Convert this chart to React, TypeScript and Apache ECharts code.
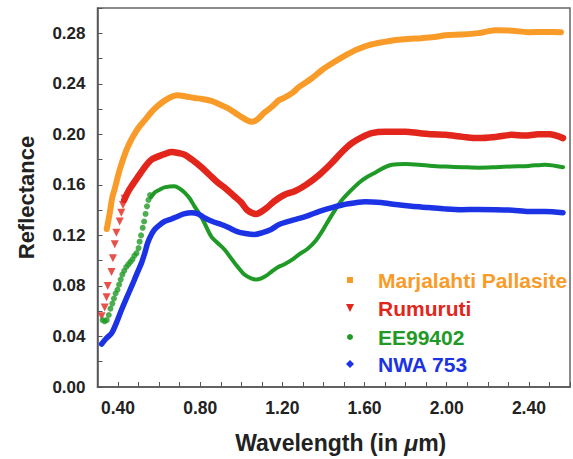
import React, { useEffect, useRef } from "react";
import * as echarts from "echarts";

const seriesNames = ["Marjalahti Pallasite", "Rumuruti", "EE99402", "NWA 753"];
const seriesColors = ["#F99B28", "#E2261C", "#1F9A26", "#1B33E4"];

const marjalahti: number[][] = [
  [0.345, 0.125], [0.36, 0.138], [0.372, 0.150], [0.384, 0.157], [0.41, 0.173], [0.447, 0.190],
  [0.49, 0.203], [0.529, 0.211], [0.57, 0.219], [0.612, 0.225], [0.65, 0.229], [0.689, 0.231],
  [0.73, 0.230], [0.772, 0.2288], [0.81, 0.228], [0.854, 0.2264], [0.89, 0.224], [0.932, 0.2209],
  [0.97, 0.217], [1.0, 0.2138], [1.03, 0.211], [1.053, 0.2099], [1.08, 0.212], [1.111, 0.217],
  [1.15, 0.222], [1.184, 0.2272], [1.208, 0.2288], [1.25, 0.233], [1.281, 0.2375], [1.34, 0.244],
  [1.393, 0.2509], [1.45, 0.257], [1.509, 0.2627], [1.56, 0.267], [1.621, 0.2706], [1.69, 0.273],
  [1.752, 0.2746], [1.81, 0.2755], [1.878, 0.2761], [1.94, 0.277], [1.995, 0.2785], [2.07, 0.279],
  [2.155, 0.2801], [2.237, 0.2824], [2.32, 0.282], [2.397, 0.2809], [2.48, 0.281], [2.556, 0.2809],
];

const rumurutiSparse: number[][] = [
  [0.32, 0.056], [0.335, 0.063], [0.344, 0.071], [0.35, 0.08], [0.368, 0.091], [0.375, 0.102],
  [0.384, 0.113], [0.392, 0.122], [0.408, 0.131], [0.416, 0.138], [0.424, 0.144], [0.432, 0.149],
];
const rumuruti: number[][] = [
  [0.43, 0.148], [0.447, 0.154], [0.47, 0.16], [0.495, 0.166], [0.53, 0.174], [0.563, 0.18],
  [0.62, 0.184], [0.66, 0.186], [0.7, 0.185], [0.723, 0.184], [0.76, 0.18], [0.806, 0.174],
  [0.845, 0.168], [0.884, 0.162], [0.925, 0.157], [0.966, 0.151], [1.0, 0.146], [1.029, 0.14],
  [1.072, 0.137], [1.1, 0.139], [1.126, 0.142], [1.16, 0.147], [1.208, 0.152], [1.26, 0.155],
  [1.315, 0.16], [1.38, 0.168], [1.441, 0.1775], [1.49, 0.186], [1.538, 0.193], [1.59, 0.198],
  [1.635, 0.201], [1.7, 0.202], [1.752, 0.202], [1.8, 0.202], [1.863, 0.201], [1.93, 0.2],
  [1.995, 0.1996], [2.08, 0.198], [2.155, 0.197], [2.24, 0.198], [2.315, 0.1996], [2.38, 0.199],
  [2.446, 0.2], [2.5, 0.2], [2.566, 0.197],
];

const ee99402Sparse: number[][] = [
  [0.325, 0.053], [0.335, 0.052], [0.345, 0.053], [0.355, 0.057], [0.363, 0.062], [0.372, 0.066],
  [0.38, 0.07], [0.388, 0.074], [0.397, 0.077], [0.405, 0.081], [0.413, 0.085], [0.421, 0.089],
  [0.43, 0.092], [0.44, 0.095], [0.45, 0.097], [0.46, 0.099], [0.47, 0.101], [0.48, 0.104],
  [0.49, 0.106], [0.5, 0.11], [0.505, 0.115], [0.512, 0.12], [0.52, 0.126], [0.527, 0.131],
  [0.534, 0.137], [0.541, 0.143], [0.548, 0.148], [0.556, 0.152],
];
const ee99402: number[][] = [
  [0.56, 0.15], [0.578, 0.154], [0.6, 0.156], [0.626, 0.158], [0.675, 0.159], [0.7, 0.157],
  [0.723, 0.154], [0.75, 0.149], [0.772, 0.143], [0.8, 0.136], [0.82, 0.13], [0.854, 0.119],
  [0.885, 0.114], [0.917, 0.109], [0.95, 0.102], [0.98, 0.0955], [1.015, 0.089], [1.048, 0.086],
  [1.075, 0.085], [1.097, 0.086], [1.12, 0.088], [1.145, 0.091], [1.18, 0.095], [1.208, 0.097],
  [1.25, 0.101], [1.281, 0.105], [1.32, 0.109], [1.363, 0.116], [1.4, 0.125], [1.427, 0.1325],
  [1.46, 0.141], [1.49, 0.148], [1.53, 0.155], [1.573, 0.1617], [1.61, 0.166], [1.655, 0.17],
  [1.7, 0.174], [1.733, 0.176], [1.8, 0.1765], [1.863, 0.176], [1.93, 0.175], [1.995, 0.1745],
  [2.08, 0.174], [2.155, 0.1736], [2.24, 0.174], [2.315, 0.1745], [2.4, 0.175], [2.48, 0.176],
  [2.566, 0.174],
];

const nwa753: number[][] = [
  [0.32, 0.034], [0.34, 0.038], [0.37, 0.043], [0.39, 0.05], [0.418, 0.0615], [0.44, 0.07],
  [0.467, 0.08], [0.49, 0.089], [0.515, 0.0986], [0.53, 0.106], [0.544, 0.114], [0.56, 0.12],
  [0.578, 0.1247], [0.6, 0.128], [0.626, 0.131], [0.66, 0.133], [0.689, 0.135], [0.72, 0.137],
  [0.757, 0.138], [0.79, 0.137], [0.82, 0.134], [0.86, 0.131], [0.903, 0.1286], [0.94, 0.126],
  [0.98, 0.123], [1.02, 0.1215], [1.063, 0.1207], [1.1, 0.122], [1.145, 0.1247], [1.184, 0.1286],
  [1.25, 0.132], [1.315, 0.135], [1.38, 0.139], [1.441, 0.142], [1.52, 0.145], [1.602, 0.1467],
  [1.68, 0.146], [1.752, 0.1444], [1.83, 0.143], [1.912, 0.142], [1.99, 0.141], [2.071, 0.1404],
  [2.15, 0.1405], [2.237, 0.1404], [2.32, 0.14], [2.397, 0.139], [2.48, 0.139], [2.566, 0.138],
];

const FONT = "'Liberation Sans', Arial, Helvetica, sans-serif";

export default function App() {
  const ref = useRef<HTMLDivElement>(null);
  useEffect(() => {
    if (!ref.current) return;
    const chart = echarts.init(ref.current, undefined, { renderer: "svg" });
    const legendX = 378;
    const legendYs = [280, 308, 337, 364];
    const markerX = 350;
    const markers: any[] = [
      { type: "rect", shape: { x: markerX - 3, y: legendYs[0] - 3, width: 6, height: 6 }, style: { fill: seriesColors[0] } },
      { type: "polygon", shape: { points: [[markerX - 4, legendYs[1] - 4], [markerX + 4, legendYs[1] - 4], [markerX, legendYs[1] + 4]] }, style: { fill: seriesColors[1] } },
      { type: "circle", shape: { cx: markerX, cy: legendYs[2], r: 3 }, style: { fill: seriesColors[2] } },
      { type: "polygon", shape: { points: [[markerX, legendYs[3] - 4], [markerX + 4, legendYs[3]], [markerX, legendYs[3] + 4], [markerX - 4, legendYs[3]]] }, style: { fill: seriesColors[3] } },
    ];
    const texts = seriesNames.map((n, i) => ({
      type: "text",
      x: legendX,
      y: legendYs[i],
      style: { text: n, fill: seriesColors[i], font: `bold 21px ${FONT}`, textVerticalAlign: "middle", verticalAlign: "middle" },
    }));
    const lineSeries = (name: string, data: number[][], color: string, width: number) => ({
      name,
      type: "line",
      data,
      smooth: 0.3,
      showSymbol: false,
      symbol: "none",
      lineStyle: { color, width, cap: "round", join: "round" },
      itemStyle: { color },
      z: 3,
    });
    chart.setOption({
      animation: false,
      backgroundColor: "#fff",
      grid: { left: 97.5, right: -1, top: 8, bottom: 71, show: true, borderColor: "#666", borderWidth: 1.5 },
      xAxis: {
        type: "value",
        min: 0.3,
        max: 2.6,
        interval: 0.1,
        name: "{a|Wavelength (in }{b|μ}{a|m)}",
        nameLocation: "middle",
        nameGap: 44,
        nameTextStyle: {
          padding: [0, 0, 0, 14],
          rich: {
            a: { fontFamily: FONT, fontWeight: "bold", fontSize: 23, color: "#222" },
            b: { fontFamily: FONT, fontWeight: "bold", fontStyle: "italic", fontSize: 23, color: "#222" },
          },
        },
        axisLine: { show: true, lineStyle: { color: "#555", width: 1.5 } },
        axisTick: { show: true, inside: true, length: 5, lineStyle: { color: "#555", width: 1 } },
        splitLine: { show: false },
        axisLabel: {
          margin: 12,
          fontFamily: FONT,
          fontWeight: "bold",
          fontSize: 17.5,
          color: "#222",
          showMinLabel: true,
          showMaxLabel: true,
          formatter: (v: number) => (Math.round(v * 10) % 4 === 0 ? v.toFixed(2) : ""),
        },
      },
      yAxis: {
        type: "value",
        min: 0,
        max: 0.3,
        interval: 0.02,
        name: "Reflectance",
        nameLocation: "middle",
        nameGap: 60,
        nameTextStyle: { fontFamily: FONT, fontWeight: "bold", fontSize: 22, color: "#222" },
        axisLine: { show: true, lineStyle: { color: "#555", width: 1.5 } },
        axisTick: { show: true, inside: true, length: 5, lineStyle: { color: "#555", width: 1 } },
        splitLine: { show: false },
        axisLabel: {
          margin: 12,
          fontFamily: FONT,
          fontWeight: "bold",
          fontSize: 17,
          color: "#222",
          formatter: (v: number) => (Math.round(v * 100) % 4 === 0 ? v.toFixed(2) : ""),
        },
      },
      series: [
        lineSeries(seriesNames[0], marjalahti, seriesColors[0], 6),
        lineSeries(seriesNames[1], rumuruti, seriesColors[1], 6.5),
        {
          name: seriesNames[1] + " points",
          type: "scatter",
          data: rumurutiSparse,
          symbol: "triangle",
          symbolRotate: 180,
          symbolSize: 8,
          itemStyle: { color: seriesColors[1] },
          z: 3,
        },
        lineSeries(seriesNames[2], ee99402, seriesColors[2], 4),
        {
          name: seriesNames[2] + " points",
          type: "scatter",
          data: ee99402Sparse,
          symbol: "circle",
          symbolSize: 6,
          itemStyle: { color: seriesColors[2] },
          z: 3,
        },
        lineSeries(seriesNames[3], nwa753, seriesColors[3], 5.5),
      ],
      graphic: [...markers, ...texts],
    });
    return () => chart.dispose();
  }, []);
  return <div ref={ref} style={{ position: "fixed", left: 0, top: 0, width: 573, height: 459 }} />;
}
